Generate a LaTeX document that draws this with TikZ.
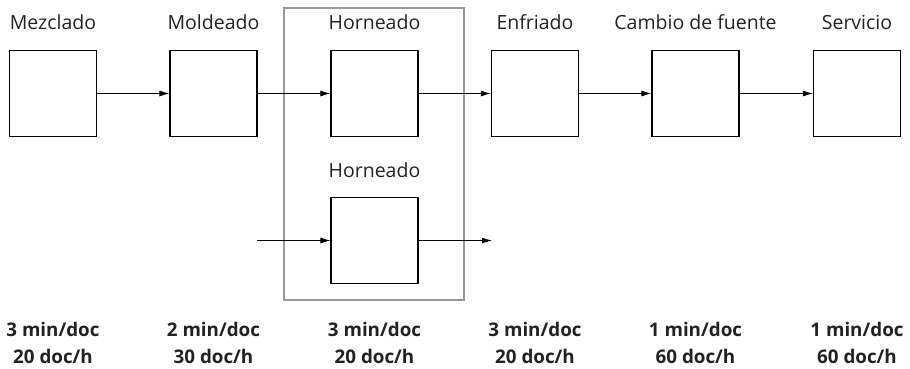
\documentclass[tikz,border=0pt]{standalone}
\usepackage{fontspec}
\setmainfont{Open Sans}
\usetikzlibrary{arrows.meta}
\definecolor{txt}{HTML}{222222}
\definecolor{frame}{HTML}{999999}
\begin{document}
\begin{tikzpicture}[x=1pt,y=-1pt,
  proc/.style={draw=black,line width=1.2pt,minimum width=87pt,minimum height=86pt,inner sep=0pt},
  lbl/.style={text=txt,font=\fontsize{19.5}{23}\selectfont,inner sep=0pt,anchor=base},
  rate/.style={text=txt,font=\bfseries\fontsize{18.8}{26.6}\selectfont,align=center,inner sep=0pt},
  flow/.style={-{Latex[length=10pt,width=6pt]},line width=0.9pt,black}]
\useasboundingbox (0,0) rectangle (910,368);
\draw[frame,line width=1.2pt] (284,8) rectangle (464,300);
\node[proc] (b1) at (53,93.5) {};
\node[proc] (b2) at (213.5,93.5) {};
\node[proc] (b3) at (374.5,93.5) {};
\node[proc] (b4) at (535,93.5) {};
\node[proc] (b5) at (695.5,93.5) {};
\node[proc] (b6) at (857,93.5) {};
\node[proc] (b7) at (374.5,240.5) {};
\node[lbl] (l1) at (53,29.8) {Mezclado};
\node[lbl] (l2) at (213.5,29.8) {Moldeado};
\node[lbl] (l3) at (374.5,29.8) {Horneado};
\node[lbl] (l4) at (535,29.8) {Enfriado};
\node[lbl] (l5) at (695.5,29.8) {Cambio de fuente};
\node[lbl] (l6) at (857,29.8) {Servicio};
\node[lbl] (l7) at (374.5,177) {Horneado};
\draw[flow] (b1) -- (b2);
\draw[flow] (b2) -- (b3);
\draw[flow] (b3) -- (b4);
\draw[flow] (b4) -- (b5);
\draw[flow] (b5) -- (b6);
\coordinate (in7) at (257,240.5);
\coordinate (out7) at (492,240.5);
\draw[flow] (in7) -- (b7);
\draw[flow] (b7) -- (out7);
\node[rate] (r1) at (53,343) {3 min/doc\\20 doc/h};
\node[rate] (r2) at (213.5,343) {2 min/doc\\30 doc/h};
\node[rate] (r3) at (374.5,343) {3 min/doc\\20 doc/h};
\node[rate] (r4) at (535,343) {3 min/doc\\20 doc/h};
\node[rate] (r5) at (695.5,343) {1 min/doc\\60 doc/h};
\node[rate] (r6) at (857,343) {1 min/doc\\60 doc/h};
\end{tikzpicture}
\end{document}
